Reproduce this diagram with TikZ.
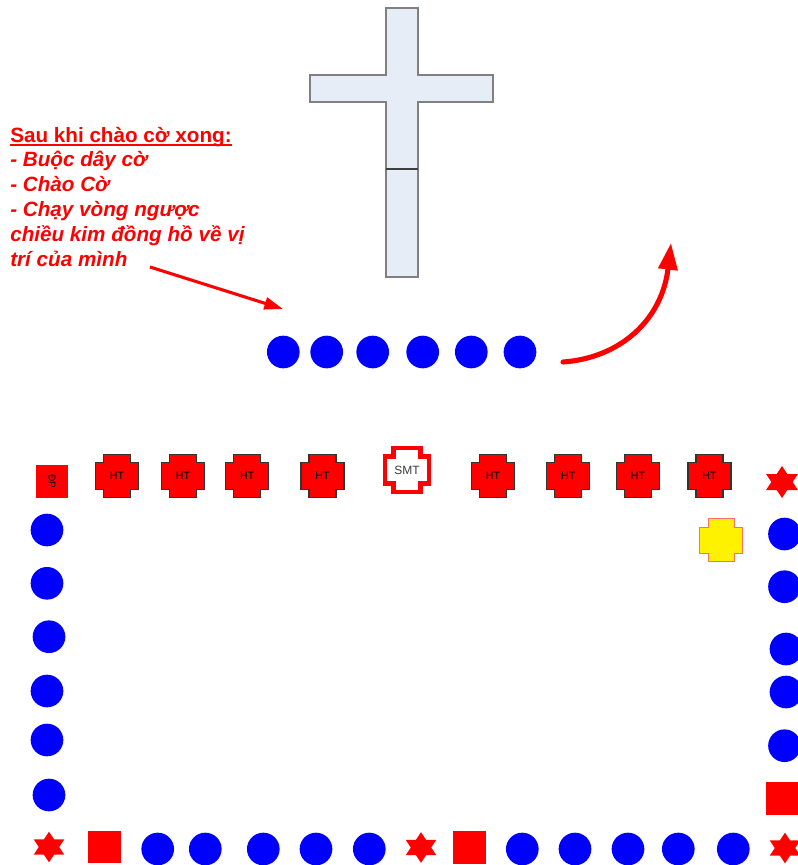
\documentclass[tikz,border=0pt]{standalone}
\usepackage{fontspec}
\setmainfont{Liberation Sans}
\usetikzlibrary{shapes.geometric,arrows.meta}
\definecolor{fred}{RGB}{255,0,0}
\definecolor{fblue}{RGB}{0,0,255}
\definecolor{crossfill}{RGB}{230,237,247}
\definecolor{crossline}{RGB}{128,128,128}
\definecolor{yelline}{RGB}{255,110,110}
\definecolor{smtgray}{RGB}{60,60,60}
% #1 path style, #2 name, #3 cx, #4 cy, #5 half size, #6 notch, #7 text, #8 text style
\newcommand\plaque[8]{%
  \path[#1] ({#3-#5+#6},{#4-#5}) -- ({#3+#5-#6},{#4-#5}) -- ({#3+#5-#6},{#4-#5+#6})
    -- ({#3+#5},{#4-#5+#6}) -- ({#3+#5},{#4+#5-#6}) -- ({#3+#5-#6},{#4+#5-#6})
    -- ({#3+#5-#6},{#4+#5}) -- ({#3-#5+#6},{#4+#5}) -- ({#3-#5+#6},{#4+#5-#6})
    -- ({#3-#5},{#4+#5-#6}) -- ({#3-#5},{#4-#5+#6}) -- ({#3-#5+#6},{#4-#5+#6}) -- cycle;
  \node[#8] (#2) at (#3,#4) {#7};}
\begin{document}
\begin{tikzpicture}[x=0.75pt,y=-0.75pt,
  dot/.style={circle,fill=fblue,draw=none,inner sep=0pt,minimum size=24.5pt},
  redsq/.style={rectangle,fill=fred,draw=none,inner sep=0pt,minimum size=24.4pt},
  hexstar/.style={star,star points=6,star point ratio=1.732,fill=fred,draw=none,
    inner sep=0pt,minimum size=23pt,xscale=1.15},
  htbox/.style={fill=fred,draw=black!80,line width=0.8pt,line join=miter},
  smtbox/.style={fill=white,draw=fred,line width=3.4pt,line join=miter},
  yelbox/.style={fill=yellow,draw=yelline,line width=0.8pt},
  lbl/.style={inner sep=0pt,font=\fontsize{8}{9}\selectfont,text=black},
  smtlbl/.style={inner sep=0pt,font=\fontsize{9}{10}\selectfont,text=smtgray},
  nolbl/.style={inner sep=0pt},
  note/.style={anchor=base west,inner sep=0pt,text=fred,
    font=\fontsize{15.5}{18.7}\selectfont\bfseries},
  crossshape/.style={fill=crossfill,draw=crossline,line width=1.1pt},
  smallarrow/.style={draw=fred,line width=2.3pt,-{Triangle[length=14pt,width=9pt]}},
  bigarrow/.style={draw=fred,line width=3.8pt,line cap=round,-{Triangle[length=20pt,width=14pt]}}
]
\useasboundingbox (0,0) rectangle (798,865);

% cross
\path[crossshape] (386,8) -- (418,8) -- (418,75) -- (493,75) -- (493,102) -- (418,102)
  -- (418,277) -- (386,277) -- (386,102) -- (310,102) -- (310,75) -- (386,75) -- cycle;
\draw[black!75,line width=1pt] (386,169) -- (418,169);

% note text
\node[note] (t1) at (10,142) {Sau khi chào cờ xong:};
\draw[fred,line width=1.2pt] ([yshift=-2.4pt]t1.base west) -- ([yshift=-2.4pt]t1.base east);
\node[note] (t2) at (10,166.8) {\itshape - Buộc dây cờ};
\node[note] (t3) at (10,191.6) {\itshape - Chào Cờ};
\node[note] (t4) at (10,216.4) {\itshape - Chạy vòng ngược};
\node[note] (t5) at (10,241.2) {\itshape chiều kim đồng hồ về vị};
\node[note] (t6) at (10,266) {\itshape trí của mình};

% top row of circles
\node[dot] (a1) at (283.3,352) {};
\node[dot] (a2) at (326.7,352) {};
\node[dot] (a3) at (372.7,352) {};
\node[dot] (a4) at (422.7,352) {};
\node[dot] (a5) at (471.3,352) {};
\node[dot] (a6) at (520,352) {};

% arrows
\coordinate (s1) at (150,267);
\coordinate (s2) at (283,309);
\draw[smallarrow] (s1) -- (s2);
\coordinate (c1) at (563,362);
\coordinate (c2) at (671,243);
\draw[bigarrow] (c1) .. controls (620,358) and (662,320) .. (c2);

% top row of the rectangle
\node[redsq,minimum width=24pt,minimum height=24.75pt] (dp) at (52,481)
  {\rotatebox{-90}{\fontsize{7.5}{8}\selectfont ĐP}};
\plaque{htbox}{h1}{117}{476}{21.5}{8}{HT}{lbl}
\plaque{htbox}{h2}{183}{476}{21.5}{8}{HT}{lbl}
\plaque{htbox}{h3}{247.3}{476}{21.5}{8}{HT}{lbl}
\plaque{htbox}{h4}{322.5}{476}{21.5}{8}{HT}{lbl}
\plaque{smtbox}{smt}{407}{470}{22}{8.5}{SMT}{smtlbl}
\plaque{htbox}{h5}{493}{476}{21.5}{8}{HT}{lbl}
\plaque{htbox}{h6}{568.3}{476}{21.5}{8}{HT}{lbl}
\plaque{htbox}{h7}{638}{476}{21.5}{8}{HT}{lbl}
\plaque{htbox}{h8}{709.5}{476}{21.5}{8}{HT}{lbl}
\node[hexstar,minimum size=24pt] (st1) at (782,482) {};
\plaque{yelbox}{yel}{721.3}{540.3}{21.5}{8.5}{}{nolbl}

% left column
\node[dot] (l1) at (47,530) {};
\node[dot] (l2) at (47,583.3) {};
\node[dot] (l3) at (49,636.7) {};
\node[dot] (l4) at (47,691) {};
\node[dot] (l5) at (47,740) {};
\node[dot] (l6) at (49,795) {};

% right column
\node[dot] (r1) at (784.5,534) {};
\node[dot] (r2) at (784.5,586.7) {};
\node[dot] (r3) at (786,649) {};
\node[dot] (r4) at (786,692) {};
\node[dot] (r5) at (784.5,745.7) {};
\node[redsq] (r6) at (782.5,798.3) {};

% bottom row
\node[hexstar] (st2) at (49,847) {};
\node[redsq] (b1) at (104.7,847) {};
\node[dot] (b2) at (157.7,849) {};
\node[dot] (b3) at (205.3,849) {};
\node[dot] (b4) at (263.3,849) {};
\node[dot] (b5) at (316,849) {};
\node[dot] (b6) at (369.3,849) {};
\node[hexstar] (st3) at (421,847.5) {};
\node[redsq] (b7) at (469.3,847.3) {};
\node[dot] (b8) at (522.3,849) {};
\node[dot] (b9) at (575,849) {};
\node[dot] (b10) at (628,849) {};
\node[dot] (b11) at (678.3,849) {};
\node[dot] (b12) at (733.3,849) {};
\node[hexstar] (st4) at (785,848) {};
\end{tikzpicture}
\end{document}
